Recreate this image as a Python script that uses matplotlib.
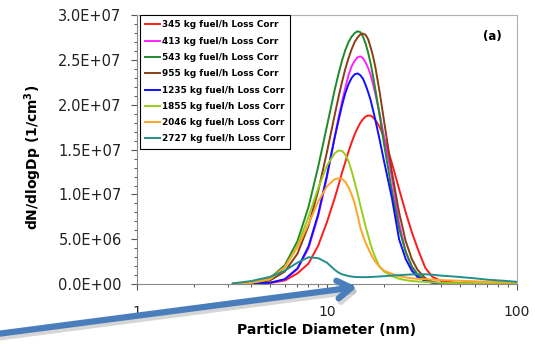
import matplotlib

matplotlib.use("Agg")
import matplotlib.pyplot as plt
import matplotlib.ticker as mticker
from matplotlib.patches import FancyArrowPatch
import numpy as np

# particle diameter grid (nm) and dN/dlogDp values in units of 1e6 /cm3
SCALE = 1e6
diam = [3.2, 4, 5, 6, 7, 8, 9, 10, 11, 11.5, 12, 12.5, 13, 13.5, 14, 14.5, 15,
        15.5, 16, 16.5, 17, 17.5, 18, 19, 20, 22, 24, 26, 28, 30, 33, 36, 40,
        50, 60, 70, 85, 100]

dn_345 = [0.02, 0.05, 0.12, 0.4, 1.2, 2.3, 4.3, 6.9, 9.6, 11.0, 12.4, 13.6, 14.8,
          15.8, 16.7, 17.4, 18.0, 18.4, 18.7, 18.8, 18.8, 18.6, 18.3, 17.5, 16.3,
          13.5, 10.6, 8.0, 5.8, 4.0, 1.8, 0.8, 0.35, 0.1, 0.06, 0.05, 0.04, 0.03]
dn_413 = [0.02, 0.05, 0.15, 0.5, 1.7, 4.0, 7.6, 11.9, 16.4, 18.5, 20.3, 21.9, 23.3,
          24.3, 24.9, 25.3, 25.4, 25.2, 24.7, 24.1, 23.3, 22.3, 21.2, 18.9, 16.4,
          11.9, 6.8, 3.6, 1.9, 1.0, 0.45, 0.2, 0.08, 0.04, 0.03, 0.02, 0.02, 0.01]
dn_543 = [0.01, 0.11, 0.64, 2.1, 4.8, 8.6, 13.1, 17.6, 21.7, 23.4, 24.9, 26.1, 27.0,
          27.6, 28.0, 28.2, 28.1, 27.6, 26.8, 25.8, 24.6, 23.2, 21.7, 18.7, 15.6,
          10.4, 6.2, 3.6, 2.0, 1.1, 0.45, 0.18, 0.07, 0.03, 0.02, 0.02, 0.01, 0.01]
dn_955 = [0.01, 0.06, 0.39, 1.4, 3.4, 6.5, 10.4, 14.7, 18.9, 20.8, 22.5, 24.0, 25.2,
          26.2, 27.0, 27.5, 27.85, 27.95, 27.8, 27.3, 26.4, 25.4, 24.2, 21.3, 18.2,
          12.5, 8.0, 4.8, 2.8, 1.6, 0.65, 0.26, 0.08, 0.03, 0.02, 0.02, 0.01, 0.01]
dn_1235 = [0.02, 0.05, 0.15, 0.55, 1.75, 4.2, 7.8, 12.1, 16.4, 18.2, 19.9, 21.3, 22.3,
           23.0, 23.4, 23.5, 23.3, 22.9, 22.2, 21.4, 20.5, 19.4, 18.3, 16.0, 13.7,
           9.6, 5.0, 2.8, 1.5, 0.8, 0.35, 0.15, 0.07, 0.03, 0.02, 0.02, 0.01, 0.01]
dn_1855 = [0.05, 0.15, 0.52, 1.86, 4.3, 7.5, 10.7, 13.2, 14.6, 14.9, 14.86, 14.45,
           13.7, 12.6, 11.4, 10.1, 8.8, 7.6, 6.4, 5.4, 4.4, 3.6, 2.95, 1.9, 1.4,
           0.9, 0.6, 0.45, 0.35, 0.3, 0.25, 0.2, 0.15, 0.1, 0.08, 0.06, 0.05, 0.04]
dn_2046 = [0.08, 0.15, 0.57, 1.9, 4.1, 6.7, 9.2, 10.9, 11.7, 11.8, 11.75, 11.4, 10.8,
           10.0, 9.0, 7.7, 6.3, 5.4, 4.6, 4.0, 3.4, 2.9, 2.5, 1.9, 1.5, 1.15, 0.9,
           0.75, 0.65, 0.6, 0.55, 0.5, 0.45, 0.38, 0.32, 0.27, 0.22, 0.19]
dn_2727 = [0.08, 0.35, 0.8, 1.5, 2.4, 3.0, 2.9, 2.4, 1.6, 1.3, 1.1, 1.0, 0.9, 0.85,
           0.8, 0.79, 0.78, 0.78, 0.78, 0.79, 0.8, 0.81, 0.83, 0.86, 0.89, 0.95,
           1.0, 1.05, 1.08, 1.1, 1.1, 1.05, 0.95, 0.8, 0.65, 0.5, 0.38, 0.26]

labels = ["345 kg fuel/h Loss Corr", "413 kg fuel/h Loss Corr",
          "543 kg fuel/h Loss Corr", "955 kg fuel/h Loss Corr",
          "1235 kg fuel/h Loss Corr", "1855 kg fuel/h Loss Corr",
          "2046 kg fuel/h Loss Corr", "2727 kg fuel/h Loss Corr"]
series = [dn_345, dn_413, dn_543, dn_955, dn_1235, dn_1855, dn_2046, dn_2727]
colors = ["#ff1a1a", "#ff22ff", "#1f8a2a", "#8b3e14",
          "#1010ff", "#9acd1a", "#ffa42a", "#21908c"]

ARROW = "#4a7ebb"

fig = plt.figure(figsize=(5.35, 3.44), dpi=100)
ax = fig.add_axes([0.256, 0.174, 0.71, 0.782])

for vals, lab, col in zip(series, labels, colors):
    ax.plot(diam, np.array(vals) * SCALE, color=col, lw=1.4, label=lab,
            solid_joinstyle="round")

ax.set_xscale("log")
ax.set_xlim(1, 100)
ax.set_ylim(0, 3.0e7)
ax.xaxis.set_major_formatter(mticker.FuncFormatter(lambda v, p: f"{v:g}"))
ax.xaxis.set_minor_formatter(mticker.NullFormatter())
ax.yaxis.set_major_locator(mticker.MultipleLocator(5e6))
ax.yaxis.set_minor_locator(mticker.MultipleLocator(1e6))
ax.yaxis.set_major_formatter(mticker.FuncFormatter(lambda v, p: f"{v:.1E}"))
ax.tick_params(axis="both", which="major", direction="out", length=4, width=0.8,
               color="#555555", labelsize=10, labelcolor="#222222")
ax.tick_params(axis="y", which="major", labelsize=10.5, pad=7)
ax.tick_params(axis="x", which="major", pad=11)
ax.tick_params(axis="both", which="minor", direction="out", length=2.5, width=0.7,
               color="#555555")

for side in ["left", "bottom"]:
    ax.spines[side].set_color("#888888")
for side in ["top", "right"]:
    ax.spines[side].set_color("#b0b0b0")

ax.set_xlabel("Particle Diameter (nm)", fontsize=10, fontweight="bold", labelpad=3)
ax.set_ylabel("dN/dlogDp (1/cm$^\\mathbf{3}$)", fontsize=10, fontweight="bold")
ax.yaxis.set_label_coords(-0.245, 0.47)

ax.text(0.935, 0.92, "(a)", transform=ax.transAxes, fontsize=8.5, fontweight="bold",
        ha="center", va="center")

leg = ax.legend(loc="upper left", bbox_to_anchor=(0.008, 1.0), fontsize=6.4,
                frameon=True, fancybox=False, edgecolor="black", framealpha=1,
                handlelength=1.6, handletextpad=0.3, labelspacing=0.82,
                borderpad=0.6, borderaxespad=0)
leg.get_frame().set_linewidth(0.8)
for t in leg.get_texts():
    t.set_fontweight("bold")

# pointer arrow drawn over the figure (with soft shadow)
tail = (-0.02, 1 - 335 / 344)
tip = (357 / 535, 1 - 287 / 344)
shadow = (tail[0] + 0.004, tail[1] - 0.01)
shadow_tip = (tip[0] + 0.004, tip[1] - 0.01)
style = "->,head_length=0.5,head_width=0.32"
fig.add_artist(FancyArrowPatch(shadow, shadow_tip, transform=fig.transFigure,
                               arrowstyle=style, lw=4.5, color="#bbbbbb", alpha=0.6,
                               mutation_scale=20, shrinkA=0, shrinkB=0))
fig.add_artist(FancyArrowPatch(tail, tip, transform=fig.transFigure,
                               arrowstyle=style, lw=4.5, color=ARROW,
                               mutation_scale=20, shrinkA=0, shrinkB=0))

fig.savefig("out.png", dpi=100, facecolor="white")
